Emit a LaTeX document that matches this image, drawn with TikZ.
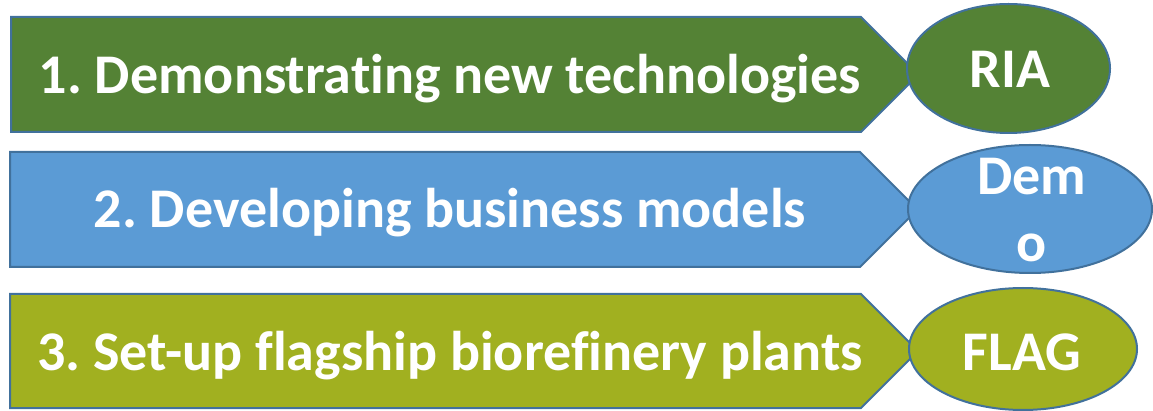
\documentclass[tikz,border=0pt]{standalone}
\usepackage{fontspec}
\setmainfont{Carlito}[Ligatures=NoCommon]
\frenchspacing
\usetikzlibrary{shapes.geometric}
\definecolor{cgreen}{RGB}{84,130,53}
\definecolor{cblue}{RGB}{91,155,213}
\definecolor{colive}{RGB}{161,176,32}
\definecolor{cstroke}{RGB}{65,113,156}
\tikzset{
  arrowbox/.style={draw=cstroke, line width=2pt, line join=miter},
  ovalbox/.style={ellipse, draw=cstroke, line width=2pt, inner sep=0pt},
  bigtxt/.style={text=white, font=\bfseries\fontsize{56}{67}\selectfont, anchor=base, inner sep=0pt}
}
\begin{document}
\begin{tikzpicture}[x=1pt,y=-1pt]
\useasboundingbox (0,0) rectangle (1153,411);
% row 1
\draw[arrowbox, fill=cgreen] (11,17) -- (861,17) -- (918.5,74.5) -- (861,132) -- (11,132) -- cycle;
\node[bigtxt] (t1) at (450,94) {1. Demonstrating new technologies};
\node[ovalbox, fill=cgreen, minimum width=203pt, minimum height=129pt] (e1) at (1008.5,68.5) {};
\node[bigtxt] (l1) at (1010,88) {RIA};
% row 2
\draw[arrowbox, fill=cblue] (10,152) -- (860,152) -- (917.5,209.5) -- (860,267) -- (10,267) -- cycle;
\node[bigtxt] (t2) at (450,228) {2. Developing business models};
\node[ovalbox, fill=cblue, minimum width=244pt, minimum height=128pt] (e2) at (1030,209) {};
\node[bigtxt] (l2a) at (1032,195) {Dem};
\node[bigtxt] (l2b) at (1032,262) {o};
% row 3
\draw[arrowbox, fill=colive] (10,294) -- (861,294) -- (918,351) -- (861,408) -- (10,408) -- cycle;
\node[bigtxt] (t3) at (450,370) {3. Set-up flagship biorefinery plants};
\node[ovalbox, fill=colive, minimum width=228pt, minimum height=122pt] (e3) at (1023,349) {};
\node[bigtxt] (l3) at (1022,370) {FLAG};
\end{tikzpicture}
\end{document}
